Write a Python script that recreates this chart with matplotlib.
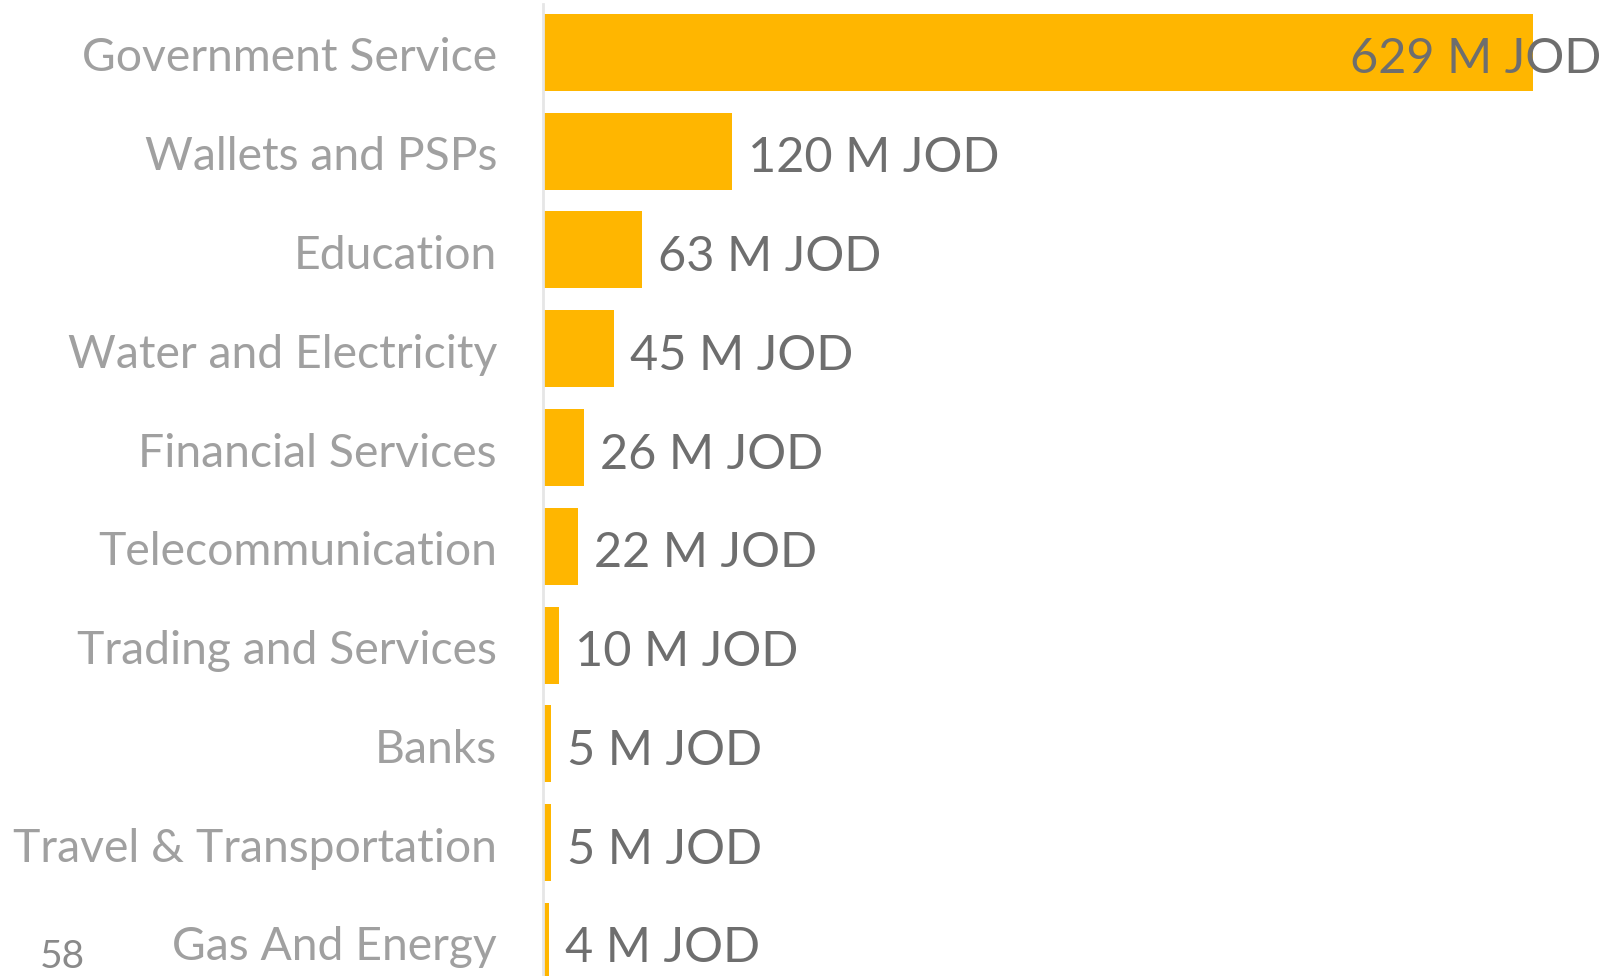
import matplotlib
matplotlib.use("Agg")
import matplotlib.pyplot as plt

categories = [
    "Government Service",
    "Wallets and PSPs",
    "Education",
    "Water and Electricity",
    "Financial Services",
    "Telecommunication",
    "Trading and Services",
    "Banks",
    "Travel & Transportation",
    "Gas And Energy",
]
values = [629, 120, 63, 45, 26, 22, 10, 5, 5, 4]
value_labels = ["629 M JOD", "120 M JOD", "63 M JOD", "45 M JOD", "26 M JOD",
                "22 M JOD", "10 M JOD", "5 M JOD", "5 M JOD", "4 M JOD"]
page_number = "58"

W, H = 1608, 976
fig = plt.figure(figsize=(W / 100, H / 100), dpi=100)
fig.patch.set_facecolor("white")

ax_left = 543 / W
ax = fig.add_axes([ax_left, 0.0, 1.0 - ax_left, 1.0 - 4 / H])

bar_color = "#FFB600"
label_color = "#A0A0A0"
value_color = "#6E6E6E"
font = "Lato"

y = list(range(len(categories)))
ax.barh(y, values, height=0.78, color=bar_color, zorder=2)

# px per data unit chosen so the x range spans the axes width
xmax = (W - 543) / 1.574
ax.set_xlim(0, xmax)
ax.set_ylim(9.35, -0.49)

ax.set_xticks([])
ax.set_yticks([])
for s in ["top", "right", "bottom"]:
    ax.spines[s].set_visible(False)
ax.spines["left"].set_color("#E6E6E6")
ax.spines["left"].set_linewidth(2)

for yi, cat in zip(y, categories):
    ax.annotate(cat, xy=(0, yi), xycoords="data", xytext=(-46, -19),
                textcoords="offset pixels", ha="right", va="baseline",
                fontsize=33.3, color=label_color, family=font)

for yi, v, lab in zip(y, values, value_labels):
    if v == max(values):
        ax.annotate(lab, xy=(1.0, yi), xycoords=("axes fraction", "data"),
                    xytext=(-7, -21), textcoords="offset pixels",
                    ha="right", va="baseline", fontsize=35, color=value_color,
                    family=font, zorder=3)
    else:
        ax.annotate(lab, xy=(v, yi), xycoords="data", xytext=(16, -21),
                    textcoords="offset pixels", ha="left", va="baseline",
                    fontsize=35, color=value_color, family=font, zorder=3)

fig.text(40 / W, 1 / H, page_number, ha="left", va="bottom",
         fontsize=28, color="#8A8A8A", family=font)

fig.savefig("out.png", dpi=100)
